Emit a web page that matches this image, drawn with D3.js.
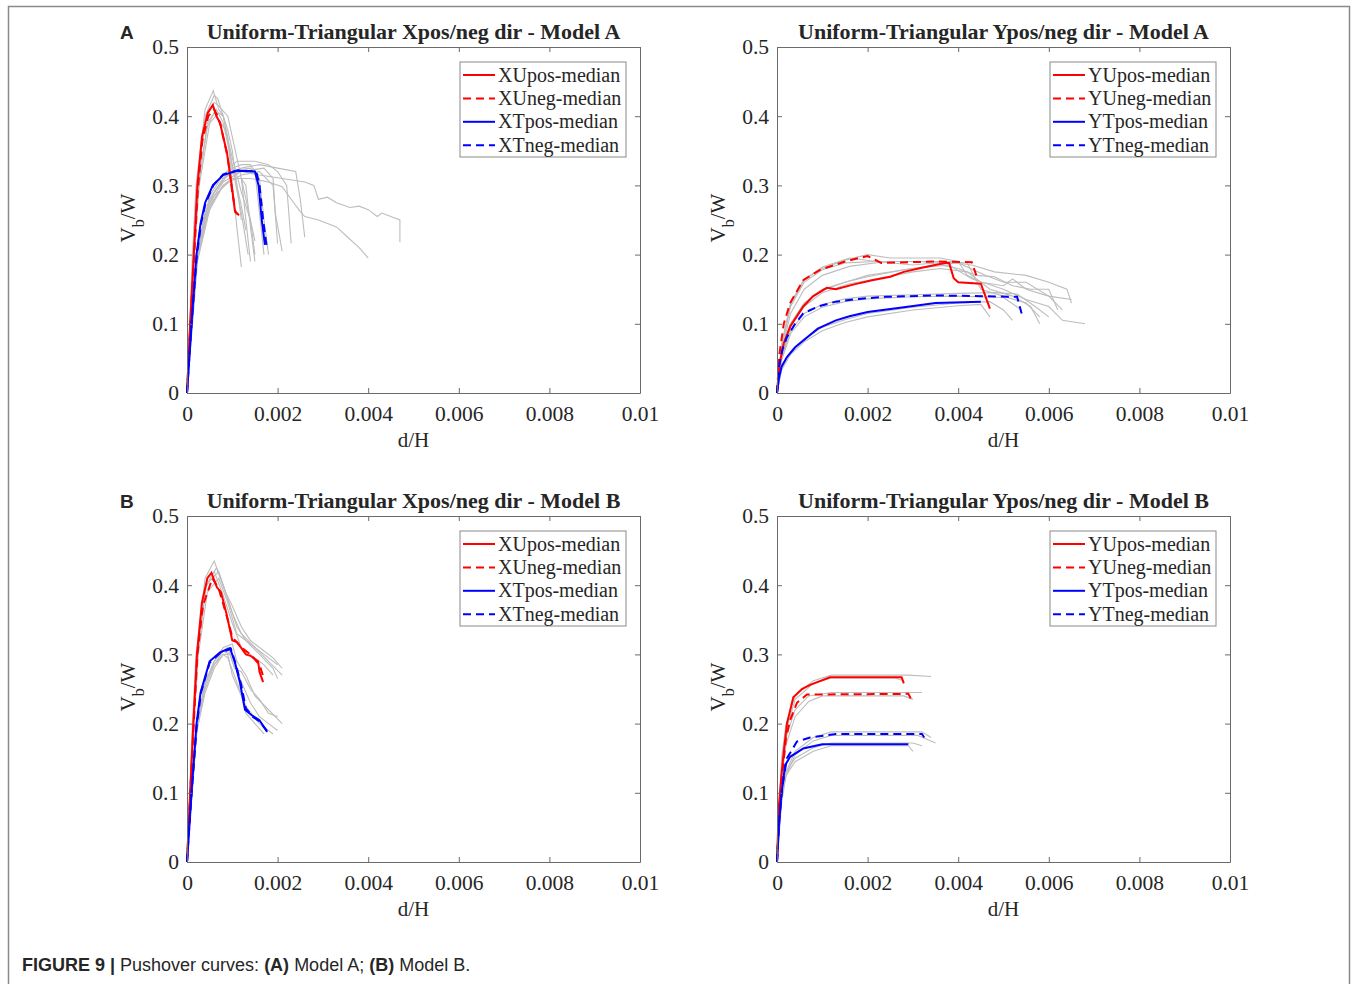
<!DOCTYPE html>
<html>
<head>
<meta charset="utf-8">
<script src="https://cdn.jsdelivr.net/npm/d3@7"></script>
<style>
  body { margin: 0; background: #fff; }
  svg text { fill: #262626; }
</style>
</head>
<body>
<svg width="1357" height="984"></svg>
<script>
// tick values
const xTicks = [0, 0.002, 0.004, 0.006, 0.008, 0.01];
const yTicks = [0, 0.1, 0.2, 0.3, 0.4, 0.5];

// ---------- Model A, X direction ----------
const aX_Upos = [[0,0],[0.00007,0.1],[0.00015,0.2],[0.00023,0.3],[0.00033,0.37],[0.00046,0.405],[0.00057,0.416],[0.00065,0.4],[0.00073,0.39],[0.0008,0.37],[0.00088,0.348],[0.001,0.293],[0.00106,0.262],[0.00115,0.257]];
const aX_Uneg = [[0,0],[0.00007,0.095],[0.00016,0.2],[0.00024,0.295],[0.00034,0.365],[0.00047,0.4],[0.0006,0.41],[0.00068,0.4],[0.00075,0.385],[0.0009,0.34],[0.001,0.29],[0.00107,0.262],[0.00112,0.258]];
const aX_Tpos = [[0,0],[0.0001,0.1],[0.00021,0.2],[0.0003,0.245],[0.0004,0.275],[0.00057,0.3],[0.0008,0.315],[0.0011,0.321],[0.0015,0.32],[0.00158,0.3],[0.00165,0.25],[0.00172,0.214]];
const aX_Tneg = [[0,0],[0.0001,0.098],[0.00022,0.2],[0.00031,0.245],[0.00041,0.274],[0.00058,0.3],[0.0008,0.316],[0.00113,0.322],[0.00153,0.32],[0.0016,0.3],[0.00168,0.25],[0.00176,0.211]];
const aX_gray = [
  [[0,0],[0.00012,0.2],[0.0002,0.3],[0.0004,0.41],[0.00058,0.437],[0.0007,0.41],[0.0008,0.4],[0.001,0.33],[0.0012,0.27],[0.0013,0.235]],
  [[0,0],[0.00013,0.2],[0.00022,0.3],[0.00042,0.4],[0.0006,0.42],[0.0007,0.415],[0.0009,0.4],[0.0011,0.34],[0.0013,0.28],[0.0015,0.22]],
  [[0,0],[0.00015,0.2],[0.00025,0.3],[0.00045,0.385],[0.0006,0.405],[0.0008,0.385],[0.00085,0.38],[0.001,0.34],[0.0012,0.29],[0.0014,0.25],[0.0015,0.2]],
  [[0,0],[0.00014,0.2],[0.00023,0.3],[0.0004,0.4],[0.0006,0.43],[0.00068,0.425],[0.0009,0.38],[0.001,0.35],[0.0011,0.3],[0.0012,0.25]],
  [[0,0],[0.00016,0.2],[0.00027,0.3],[0.0005,0.39],[0.0007,0.405],[0.0008,0.4],[0.0009,0.37],[0.001,0.3],[0.0011,0.24],[0.0012,0.182]],
  [[0,0],[0.00015,0.2],[0.00025,0.3],[0.00045,0.39],[0.00065,0.41],[0.0008,0.39],[0.0009,0.36],[0.00105,0.31],[0.0012,0.26],[0.00135,0.2]],
  [[0,0],[0.0002,0.19],[0.0004,0.26],[0.0006,0.29],[0.0008,0.31],[0.001,0.325],[0.0012,0.33],[0.0014,0.33],[0.0015,0.32],[0.0016,0.26],[0.0017,0.2]],
  [[0,0],[0.00022,0.19],[0.0004,0.25],[0.0006,0.28],[0.0008,0.3],[0.001,0.31],[0.0012,0.31],[0.0013,0.3],[0.0014,0.24],[0.0015,0.19]],
  [[0,0],[0.0002,0.19],[0.0004,0.26],[0.0006,0.29],[0.0009,0.315],[0.0012,0.32],[0.0016,0.315],[0.0021,0.31],[0.0026,0.305],[0.0028,0.3],[0.0029,0.28],[0.0031,0.283],[0.0033,0.275],[0.0036,0.268],[0.0038,0.27],[0.004,0.265],[0.0042,0.255],[0.0043,0.26],[0.0045,0.255],[0.0047,0.25],[0.0047,0.218]],
  [[0,0],[0.00021,0.19],[0.0004,0.255],[0.0006,0.285],[0.001,0.31],[0.0014,0.31],[0.0018,0.305],[0.0021,0.298],[0.0023,0.28],[0.0025,0.262],[0.0026,0.255],[0.0029,0.25],[0.0031,0.245],[0.0033,0.24],[0.0035,0.228],[0.0038,0.21],[0.004,0.195]],
  [[0,0],[0.0002,0.2],[0.0005,0.285],[0.0008,0.315],[0.0011,0.335],[0.0015,0.335],[0.0018,0.33],[0.002,0.32],[0.0022,0.3],[0.0023,0.216]],
  [[0,0],[0.0002,0.195],[0.0005,0.28],[0.0008,0.31],[0.0012,0.325],[0.0016,0.33],[0.002,0.325],[0.0024,0.32],[0.0025,0.28],[0.0026,0.225]],
  [[0,0],[0.00022,0.19],[0.0005,0.27],[0.0008,0.3],[0.0012,0.315],[0.0016,0.32],[0.0019,0.3],[0.002,0.216]],
  [[0,0],[0.00023,0.19],[0.0005,0.265],[0.0008,0.3],[0.001,0.31],[0.0012,0.31],[0.0013,0.25],[0.0014,0.19]],
  [[0,0],[0.00021,0.195],[0.0005,0.28],[0.0008,0.31],[0.0011,0.322],[0.0014,0.325],[0.0016,0.31],[0.0017,0.25],[0.0018,0.2]],
  [[0,0],[0.00022,0.19],[0.0005,0.275],[0.0008,0.305],[0.0012,0.32],[0.0017,0.325],[0.0019,0.31],[0.00195,0.26],[0.0021,0.205]]
];

// ---------- Model A, Y direction ----------
const aY_Upos = [[0,0],[0.00005,0.04],[0.00015,0.072],[0.00029,0.096],[0.00058,0.125],[0.0008,0.14],[0.0011,0.152],[0.0013,0.15],[0.0017,0.157],[0.0021,0.163],[0.0025,0.168],[0.0028,0.175],[0.0032,0.181],[0.0037,0.188],[0.0038,0.188],[0.0039,0.166],[0.004,0.16],[0.0045,0.158],[0.0047,0.122]];
const aY_Uneg = [[0,0],[0.00005,0.055],[0.00015,0.1],[0.00029,0.13],[0.00058,0.163],[0.00095,0.178],[0.0015,0.19],[0.002,0.198],[0.0023,0.188],[0.0029,0.189],[0.0035,0.19],[0.0043,0.189],[0.0044,0.17]];
const aY_Tpos = [[0,0],[0.00004,0.02],[0.0001,0.038],[0.00022,0.052],[0.0004,0.066],[0.00058,0.076],[0.0009,0.093],[0.0013,0.105],[0.0016,0.111],[0.002,0.117],[0.0028,0.124],[0.0035,0.13],[0.0045,0.132]];
const aY_Tneg = [[0,0],[0.00005,0.04],[0.00012,0.063],[0.00022,0.081],[0.0004,0.1],[0.00058,0.115],[0.0009,0.125],[0.0013,0.132],[0.0018,0.136],[0.0024,0.139],[0.0035,0.141],[0.0053,0.139],[0.0054,0.115]];
const aY_gray = [
  [[0,0],[0.0001,0.07],[0.0003,0.13],[0.0006,0.165],[0.001,0.18],[0.0015,0.192],[0.002,0.2],[0.0025,0.195],[0.003,0.195],[0.0036,0.195],[0.004,0.19],[0.0042,0.17],[0.0045,0.16],[0.005,0.155],[0.0052,0.165],[0.0055,0.15],[0.006,0.14],[0.0065,0.135]],
  [[0,0],[0.0001,0.065],[0.0003,0.125],[0.0006,0.16],[0.001,0.178],[0.0015,0.188],[0.0022,0.19],[0.003,0.19],[0.0037,0.19],[0.0043,0.185],[0.0048,0.175],[0.0055,0.17],[0.006,0.16],[0.0064,0.15],[0.0065,0.13]],
  [[0,0],[0.0001,0.068],[0.0003,0.128],[0.0006,0.163],[0.001,0.182],[0.0016,0.195],[0.0022,0.19],[0.003,0.185],[0.0038,0.19],[0.0042,0.188],[0.0045,0.15],[0.005,0.14],[0.0055,0.13],[0.0058,0.11]],
  [[0,0],[0.0001,0.055],[0.0003,0.1],[0.0006,0.13],[0.001,0.15],[0.0015,0.16],[0.002,0.168],[0.0028,0.178],[0.0035,0.185],[0.004,0.188],[0.0046,0.17],[0.005,0.16],[0.0055,0.16],[0.006,0.14],[0.0063,0.12]],
  [[0,0],[0.0001,0.05],[0.0003,0.095],[0.0006,0.125],[0.001,0.145],[0.0016,0.158],[0.0022,0.165],[0.003,0.175],[0.0036,0.18],[0.0042,0.175],[0.0047,0.15],[0.0052,0.14],[0.0056,0.125],[0.0058,0.1]],
  [[0,0],[0.0001,0.055],[0.0003,0.1],[0.0006,0.13],[0.001,0.148],[0.0015,0.16],[0.002,0.17],[0.003,0.18],[0.0038,0.185],[0.0043,0.165],[0.005,0.15],[0.0055,0.135],[0.006,0.125],[0.0063,0.105],[0.0068,0.1]],
  [[0,0],[0.0001,0.06],[0.0003,0.115],[0.0006,0.15],[0.001,0.17],[0.0016,0.183],[0.0024,0.19],[0.0032,0.19],[0.004,0.18],[0.0044,0.17],[0.0048,0.168],[0.0052,0.155],[0.0056,0.15],[0.006,0.15],[0.0062,0.12]],
  [[0,0],[0.0001,0.05],[0.0003,0.09],[0.0006,0.115],[0.001,0.128],[0.0015,0.136],[0.002,0.14],[0.003,0.142],[0.004,0.144],[0.0048,0.145],[0.0053,0.143],[0.0057,0.125],[0.006,0.11]],
  [[0,0],[0.0001,0.047],[0.0003,0.086],[0.0006,0.11],[0.001,0.124],[0.0015,0.132],[0.002,0.136],[0.003,0.139],[0.004,0.14],[0.005,0.138],[0.0054,0.12]],
  [[0,0],[0.0001,0.035],[0.0003,0.06],[0.0006,0.078],[0.001,0.095],[0.0015,0.106],[0.002,0.115],[0.003,0.124],[0.004,0.13],[0.0047,0.132],[0.005,0.12],[0.0052,0.105]],
  [[0,0],[0.0001,0.033],[0.0003,0.056],[0.0006,0.074],[0.001,0.09],[0.0015,0.102],[0.002,0.11],[0.003,0.12],[0.004,0.126],[0.0045,0.128],[0.0047,0.11]]
];

// ---------- Model B, X direction ----------
const bX_Upos = [[0,0],[0.00007,0.1],[0.00014,0.2],[0.00022,0.3],[0.00033,0.375],[0.00045,0.41],[0.00054,0.418],[0.00066,0.397],[0.00075,0.39],[0.00087,0.359],[0.001,0.32],[0.0011,0.318],[0.0013,0.3],[0.0014,0.298],[0.00157,0.29],[0.0016,0.275],[0.00168,0.26]];
const bX_Uneg = [[0,0],[0.00007,0.095],[0.00015,0.2],[0.00023,0.3],[0.00035,0.37],[0.00056,0.41],[0.0007,0.395],[0.0009,0.35],[0.001,0.325],[0.0012,0.31],[0.0014,0.3],[0.0016,0.285],[0.0017,0.265]];
const bX_Tpos = [[0,0],[0.0001,0.1],[0.00021,0.2],[0.0003,0.245],[0.0005,0.29],[0.00073,0.303],[0.00095,0.309],[0.00106,0.288],[0.00117,0.259],[0.00128,0.22],[0.00143,0.212],[0.0016,0.205],[0.00177,0.188]];
const bX_Tneg = [[0,0],[0.0001,0.098],[0.00022,0.2],[0.00031,0.245],[0.0005,0.288],[0.00073,0.302],[0.00097,0.308],[0.00108,0.285],[0.0012,0.255],[0.0013,0.222],[0.00145,0.21],[0.0016,0.203],[0.00176,0.19]];
const bX_gray = [
  [[0,0],[0.00012,0.2],[0.0002,0.3],[0.0004,0.41],[0.0006,0.435],[0.0008,0.4],[0.001,0.36],[0.0012,0.33],[0.0015,0.31],[0.0018,0.29],[0.0021,0.27]],
  [[0,0],[0.00013,0.2],[0.00022,0.3],[0.00042,0.4],[0.0007,0.42],[0.0009,0.38],[0.0011,0.34],[0.0013,0.32],[0.0016,0.3],[0.0019,0.28],[0.002,0.265]],
  [[0,0],[0.00014,0.2],[0.00023,0.3],[0.0004,0.395],[0.0006,0.42],[0.0008,0.385],[0.001,0.345],[0.0012,0.31],[0.0014,0.3],[0.0017,0.285],[0.0019,0.27]],
  [[0,0],[0.00015,0.2],[0.00025,0.3],[0.00045,0.39],[0.0007,0.41],[0.0009,0.375],[0.0011,0.33],[0.0014,0.315],[0.0017,0.3],[0.002,0.285]],
  [[0,0],[0.00013,0.2],[0.00023,0.3],[0.00043,0.4],[0.00065,0.425],[0.00085,0.39],[0.001,0.37],[0.0012,0.34],[0.0014,0.32],[0.0017,0.305],[0.0019,0.295],[0.0021,0.28]],
  [[0,0],[0.0002,0.19],[0.0004,0.26],[0.0006,0.285],[0.0008,0.305],[0.0009,0.31],[0.001,0.29],[0.0012,0.26],[0.0014,0.23],[0.0016,0.21],[0.0018,0.2],[0.002,0.19]],
  [[0,0],[0.00022,0.19],[0.0004,0.245],[0.0006,0.28],[0.0008,0.3],[0.0009,0.3],[0.001,0.27],[0.0012,0.24],[0.0013,0.215],[0.0015,0.2],[0.0017,0.185]],
  [[0,0],[0.0002,0.195],[0.0004,0.26],[0.0006,0.29],[0.0008,0.31],[0.001,0.315],[0.0011,0.29],[0.0013,0.27],[0.0015,0.24],[0.0018,0.22],[0.0021,0.2]],
  [[0,0],[0.00021,0.19],[0.0004,0.25],[0.0006,0.285],[0.0008,0.3],[0.0009,0.295],[0.0011,0.26],[0.0013,0.225],[0.0016,0.2],[0.0019,0.185]],
  [[0,0],[0.0002,0.19],[0.0004,0.255],[0.0006,0.29],[0.0008,0.305],[0.00095,0.3],[0.00105,0.28],[0.0012,0.275],[0.0014,0.25],[0.0016,0.235],[0.0018,0.215],[0.002,0.21]]
];

// ---------- Model B, Y direction ----------
const bY_Upos = [[0,0],[0.00004,0.08],[0.00009,0.12],[0.00015,0.16],[0.00022,0.2],[0.00036,0.238],[0.00055,0.25],[0.00073,0.256],[0.00117,0.267],[0.00275,0.267],[0.0028,0.258]];
const bY_Uneg = [[0,0],[0.00005,0.07],[0.00012,0.13],[0.0002,0.18],[0.00029,0.205],[0.00044,0.23],[0.00066,0.242],[0.0029,0.243],[0.003,0.23]];
const bY_Tpos = [[0,0],[0.00004,0.05],[0.0001,0.1],[0.00018,0.14],[0.00029,0.152],[0.00058,0.164],[0.001,0.17],[0.0029,0.17]];
const bY_Tneg = [[0,0],[0.00005,0.06],[0.00012,0.11],[0.00022,0.15],[0.00044,0.174],[0.00073,0.18],[0.0013,0.185],[0.0032,0.185],[0.00325,0.18]];
const bY_gray = [
  [[0,0],[0.0001,0.15],[0.0002,0.2],[0.0004,0.24],[0.0008,0.262],[0.0012,0.27],[0.0029,0.27],[0.0034,0.268]],
  [[0,0],[0.0001,0.14],[0.0002,0.19],[0.0004,0.235],[0.0008,0.258],[0.0012,0.266],[0.0026,0.266],[0.0028,0.262]],
  [[0,0],[0.0001,0.13],[0.0002,0.18],[0.0004,0.22],[0.0007,0.24],[0.0012,0.245],[0.0032,0.245]],
  [[0,0],[0.0001,0.12],[0.0002,0.17],[0.0004,0.21],[0.0007,0.232],[0.001,0.24],[0.0028,0.24],[0.003,0.235]],
  [[0,0],[0.0001,0.1],[0.0002,0.13],[0.0004,0.16],[0.0008,0.18],[0.0012,0.188],[0.0032,0.188],[0.0034,0.18]],
  [[0,0],[0.0001,0.095],[0.0002,0.125],[0.0004,0.155],[0.0008,0.175],[0.0012,0.183],[0.0031,0.183],[0.0035,0.172]],
  [[0,0],[0.0001,0.09],[0.0002,0.13],[0.0004,0.15],[0.0008,0.165],[0.0012,0.172],[0.003,0.172],[0.0032,0.168]],
  [[0,0],[0.0001,0.085],[0.0002,0.125],[0.0004,0.145],[0.0008,0.16],[0.0012,0.168],[0.0029,0.168],[0.003,0.16]]
];

const svg = d3.select("svg");
const W = 453, H = 346;
const serif = "'Liberation Serif', 'Times New Roman', serif";
const sans = "'Liberation Sans', Arial, sans-serif";

// figure frame (open at the bottom)
svg.append("path")
  .attr("d", "M8.5,990V6.5H1349.5V990")
  .attr("fill", "none").attr("stroke", "#8a8a8a").attr("stroke-width", 1.5);

const panels = [
  {left: 187, top: 47, dir: "X", model: "A", letter: "A", med: [aX_Upos, aX_Uneg, aX_Tpos, aX_Tneg], gray: aX_gray},
  {left: 777, top: 47, dir: "Y", model: "A", letter: null, med: [aY_Upos, aY_Uneg, aY_Tpos, aY_Tneg], gray: aY_gray},
  {left: 187, top: 516, dir: "X", model: "B", letter: "B", med: [bX_Upos, bX_Uneg, bX_Tpos, bX_Tneg], gray: bX_gray},
  {left: 777, top: 516, dir: "Y", model: "B", letter: null, med: [bY_Upos, bY_Uneg, bY_Tpos, bY_Tneg], gray: bY_gray}
];

const medStyle = [
  {name: "Upos", color: "#ff0000", dash: null},
  {name: "Uneg", color: "#ff0000", dash: "8,5"},
  {name: "Tpos", color: "#0000ff", dash: null},
  {name: "Tneg", color: "#0000ff", dash: "8,5"}
];

const x = d3.scaleLinear().domain([0, 0.01]).range([0, W]);
const y = d3.scaleLinear().domain([0, 0.5]).range([H, 0]);
const line = d3.line().x(d => x(d[0])).y(d => y(d[1]));
const fmt = d => d === 0 ? "0" : String(+d.toFixed(3));

panels.forEach(p => {
  const g = svg.append("g").attr("transform", `translate(${p.left},${p.top})`);

  // curves
  g.append("g").selectAll("path").data(p.gray).join("path")
    .attr("d", line).attr("fill", "none")
    .attr("stroke", "#bdbdbd").attr("stroke-width", 1.1);
  g.append("g").selectAll("path").data(p.med).join("path")
    .attr("d", line).attr("fill", "none")
    .attr("stroke", (d, i) => medStyle[i].color)
    .attr("stroke-dasharray", (d, i) => medStyle[i].dash)
    .attr("stroke-width", 2);

  // axes (box, inward ticks)
  const axes = [
    {ax: d3.axisBottom(x).tickValues(xTicks).tickFormat(fmt).tickPadding(13), t: `translate(0,${H})`},
    {ax: d3.axisTop(x).tickValues(xTicks).tickFormat(""), t: "translate(0,0)"},
    {ax: d3.axisLeft(y).tickValues(yTicks).tickFormat(fmt).tickPadding(8), t: "translate(0,0)"},
    {ax: d3.axisRight(y).tickValues(yTicks).tickFormat(""), t: `translate(${W},0)`}
  ];
  axes.forEach(a => {
    const ag = g.append("g").attr("transform", a.t)
      .call(a.ax.tickSizeInner(-5).tickSizeOuter(0));
    ag.selectAll("path, line").attr("stroke", "#6a6a6a");
    ag.selectAll("text").attr("font-family", serif).attr("font-size", 21.5).attr("fill", "#262626");
  });

  // title
  g.append("text").attr("x", W / 2).attr("y", -8).attr("text-anchor", "middle")
    .attr("font-family", serif).attr("font-weight", "bold").attr("font-size", 22)
    .text(`Uniform-Triangular ${p.dir}pos/neg dir - Model ${p.model}`);

  // axis labels
  g.append("text").attr("x", W / 2).attr("y", H + 54).attr("text-anchor", "middle")
    .attr("font-family", serif).attr("font-size", 21).text("d/H");
  const yl = g.append("text").attr("transform", `translate(-52,${H / 2 - 2}) rotate(-90)`)
    .attr("text-anchor", "middle").attr("font-family", serif).attr("font-size", 21);
  yl.append("tspan").text("V");
  yl.append("tspan").attr("baseline-shift", "sub").attr("font-size", 16).text("b");
  yl.append("tspan").text("/W");

  if (p.letter) {
    g.append("text").attr("x", -67).attr("y", -8)
      .attr("font-family", sans).attr("font-weight", "bold").attr("font-size", 19)
      .attr("fill", "#111").text(p.letter);
  }

  // legend
  const lg = g.append("g").attr("transform", `translate(${W - 180},15)`);
  lg.append("rect").attr("width", 166).attr("height", 95)
    .attr("fill", "#fff").attr("stroke", "#8a8a8a").attr("stroke-width", 1);
  medStyle.forEach((m, i) => {
    const yy = 13 + i * 23.4;
    lg.append("line").attr("x1", 3).attr("x2", 35).attr("y1", yy).attr("y2", yy)
      .attr("stroke", m.color).attr("stroke-width", 2).attr("stroke-dasharray", m.dash);
    lg.append("text").attr("x", 38).attr("y", yy + 6.5)
      .attr("font-family", serif).attr("font-size", 20)
      .text(`${p.dir}${m.name}-median`);
  });
});

// caption
const cap = svg.append("text").attr("x", 22).attr("y", 971)
  .attr("font-family", sans).attr("font-size", 18).attr("fill", "#333");
cap.append("tspan").attr("font-weight", "bold").text("FIGURE 9 | ");
cap.append("tspan").text("Pushover curves: ");
cap.append("tspan").attr("font-weight", "bold").text("(A)");
cap.append("tspan").text(" Model A; ");
cap.append("tspan").attr("font-weight", "bold").text("(B)");
cap.append("tspan").text(" Model B.");
</script>
</body>
</html>
